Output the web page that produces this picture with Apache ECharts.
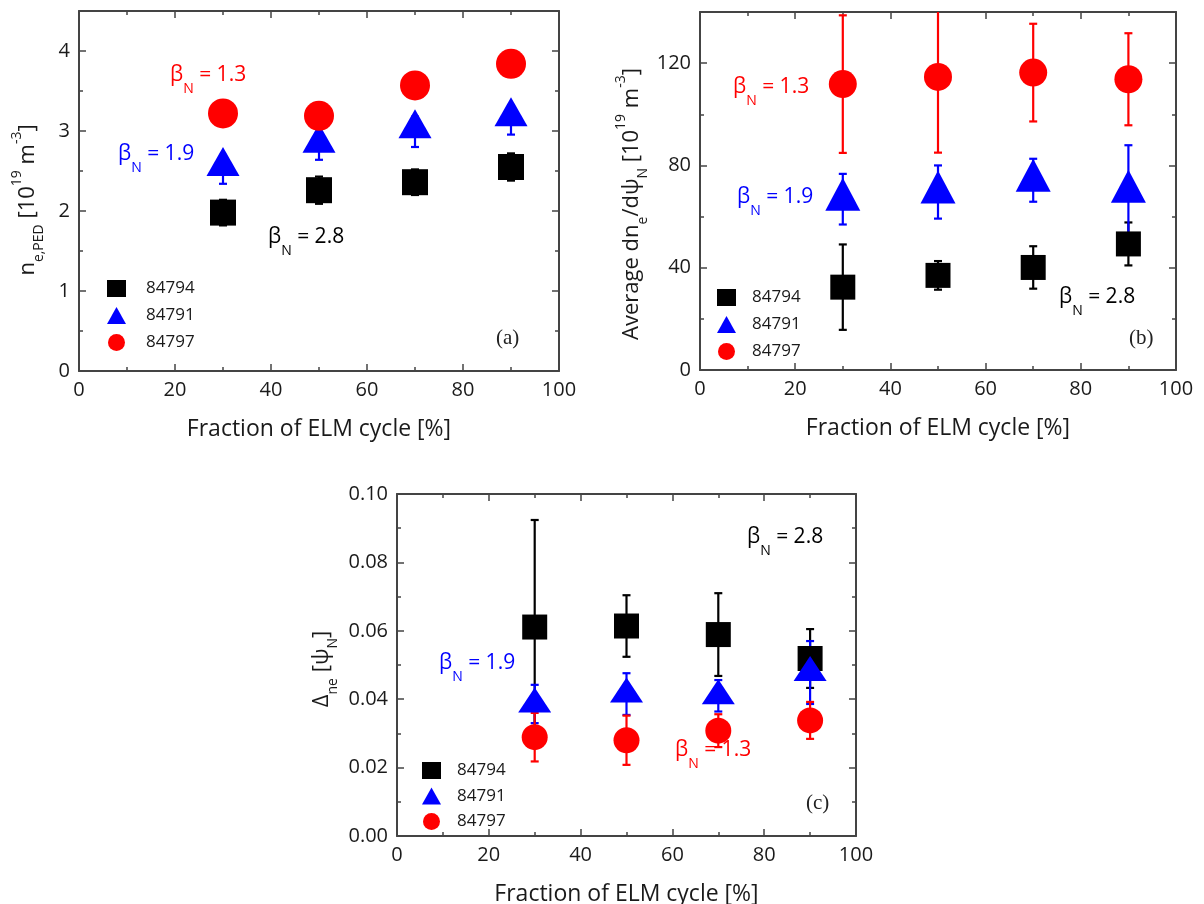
<!DOCTYPE html>
<html>
<head>
<meta charset="utf-8">
<script src="https://cdn.jsdelivr.net/npm/echarts@6/dist/echarts.min.js"></script>
<style>
  html, body { margin: 0; padding: 0; background: #ffffff; }
  #chart { width: 1204px; height: 904px; }
</style>
</head>
<body>
<div id="chart"></div>
<script>
const FONT = 'Open Sans';
const SERIF = 'Liberation Serif';
const AXIS_COLOR = '#444444';
const TEXT_COLOR = '#1a1a1a';

// Shared x positions (fraction of ELM cycle, %)
const cycleFraction = [30, 50, 70, 90];
const shots = ['84794', '84791', '84797'];
const shotColors = ['#000000', '#0000ff', '#ff0000'];
const shotSymbols = ['rect', 'triangle', 'circle'];
const betaValues = ['2.8', '1.9', '1.3'];

// (a) pedestal density n_e,PED [1e19 m^-3]
const pedDensity84794 = [1.98, 2.26, 2.36, 2.55];
const pedDensityErr84794 = [0.16, 0.17, 0.16, 0.17];
const pedDensity84791 = [2.52, 2.81, 2.99, 3.14];
const pedDensityErr84791 = [0.18, 0.17, 0.19, 0.185];
const pedDensity84797 = [3.22, 3.19, 3.57, 3.84];
const pedDensityErr84797 = [0.12, 0.12, 0.12, 0.12];

// (b) average density gradient dn_e/dpsi_N [1e19 m^-3]
const gradient84794 = [32.4, 37.0, 40.1, 49.3];
const gradientErr84794 = [16.7, 5.6, 8.3, 8.4];
const gradient84791 = [66.8, 69.6, 74.2, 69.9];
const gradientErr84791 = [9.9, 10.4, 8.4, 18.0];
const gradient84797 = [111.8, 114.6, 116.3, 113.7];
const gradientErr84797 = [26.9, 29.6, 19.1, 18.0];

// (c) pedestal width Delta_ne [psi_N]
const width84794 = [0.0611, 0.0614, 0.0589, 0.0519];
const widthErr84794 = [0.0313, 0.0090, 0.0121, 0.0086];
const width84791 = [0.0386, 0.0415, 0.0410, 0.0478];
const widthErr84791 = [0.0056, 0.0061, 0.0046, 0.0092];
const width84797 = [0.0289, 0.0280, 0.0308, 0.0338];
const widthErr84797 = [0.0071, 0.0072, 0.0048, 0.0054];

const richScript = {
  sub: { fontSize: 14, lineHeight: 14, verticalAlign: 'bottom', fontFamily: FONT, color: TEXT_COLOR },
  sup: { fontSize: 14, lineHeight: 14, verticalAlign: 'top', fontFamily: FONT, color: TEXT_COLOR }
};

const panels = [
  {
    grid: { left: 79, top: 11, width: 480, height: 360 },
    x: { min: 0, max: 100, major: 20, minor: 10, digits: 0 },
    y: { min: 0, max: 4.5, major: 1, minor: 0.5, digits: 0 },
    yName: 'n{sub|e,PED} [10{sup|19} m{sup|-3}]', yGap: 33, yShift: 18,
    values: [pedDensity84794, pedDensity84791, pedDensity84797],
    errors: [pedDensityErr84794, pedDensityErr84791, pedDensityErr84797],
    sizes: [26, [33, 29], 30], triOffset: -8,
    tag: '(a)', tagPos: [496, 338],
    notes: [[268, 237], [118, 154], [170, 75]],
    legendPos: [107, 280], legendGap: 10, legendTextGap: 20
  },
  {
    grid: { left: 700, top: 12, width: 476, height: 358 },
    x: { min: 0, max: 100, major: 20, minor: 10, digits: 0 },
    y: { min: 0, max: 140, major: 40, minor: 20, digits: 0 },
    yName: 'Average dn{sub|e}/dψ{sub|N} [10{sup|19} m{sup|-3}]', yGap: 50, yShift: 26,
    values: [gradient84794, gradient84791, gradient84797],
    errors: [gradientErr84794, gradientErr84791, gradientErr84797],
    sizes: [25, [35, 33], 28], triOffset: -5,
    tag: '(b)', tagPos: [1129, 338],
    notes: [[1059, 297], [737, 197], [733, 87]],
    legendPos: [717, 289], legendGap: 10, legendTextGap: 16
  },
  {
    grid: { left: 397, top: 494, width: 459, height: 342 },
    x: { min: 0, max: 100, major: 20, minor: 10, digits: 0 },
    y: { min: 0, max: 0.1, major: 0.02, minor: 0.01, digits: 2 },
    yName: 'Δ{sub|ne} [ψ{sub|N}]', yGap: 57, yShift: 8,
    values: [width84794, width84791, width84797],
    errors: [widthErr84794, widthErr84791, widthErr84797],
    sizes: [25, [33, 25], 26], triOffset: -4,
    tag: '(c)', tagPos: [806, 803],
    notes: [[747, 537], [439, 663], [675, 750]],
    legendPos: [422, 762], legendGap: 8.5, legendTextGap: 16
  }
];

const xAxes = [];
const yAxes = [];

// Each side of a frame gets a fine-tick axis plus a major axis; the bottom/left major axis carries labels.
function addAxes(list, gridIndex, dim, cfg, name, nameGap, nameShift) {
  const sides = dim === 'x' ? ['bottom', 'top'] : ['left', 'right'];
  let primary = -1;
  sides.forEach(function (pos, s) {
    list.push({
      type: 'value', gridIndex: gridIndex, position: pos,
      min: cfg.min, max: cfg.max, interval: cfg.minor,
      axisLine: { show: false, onZero: false },
      axisTick: { show: true, inside: true, length: 4, lineStyle: { color: AXIS_COLOR, width: 1.5 } },
      axisLabel: { show: false }, splitLine: { show: false }, silent: true
    });
    const major = {
      type: 'value', gridIndex: gridIndex, position: pos,
      min: cfg.min, max: cfg.max, interval: cfg.major,
      axisLine: { show: true, onZero: false, lineStyle: { color: AXIS_COLOR, width: 2 } },
      axisTick: { show: true, inside: true, length: 7, lineStyle: { color: AXIS_COLOR, width: 1.5 } },
      splitLine: { show: false }, silent: true,
      axisLabel: { show: false }
    };
    if (s === 0) {
      primary = list.length;
      major.axisLabel = {
        show: true, margin: 9, fontSize: 20, fontFamily: FONT, color: TEXT_COLOR,
        hideOverlap: false,
        formatter: function (v) {
          const k = v / cfg.major;
          if (Math.abs(k - Math.round(k)) > 1e-6) return '';
          return v.toFixed(cfg.digits);
        }
      };
      major.name = name;
      major.nameLocation = 'middle';
      major.nameGap = nameGap;
      major.nameMoveOverlap = false;
      major.nameRotate = dim === 'x' ? 0 : 90;
      major.nameTextStyle = {
        fontSize: dim === 'x' ? 23 : 22, fontFamily: FONT, color: TEXT_COLOR,
        lineHeight: dim === 'x' ? 28 : 36, rich: richScript,
        padding: dim === 'x' ? 0 : [0, nameShift || 0, 0, 0]
      };
    }
    list.push(major);
  });
  return primary;
}

function errorBars(xIdx, yIdx, values, errors, color, capWidth) {
  return {
    type: 'custom', xAxisIndex: xIdx, yAxisIndex: yIdx, clip: true, silent: true,
    data: cycleFraction.map(function (x, i) { return [x, values[i] - errors[i], values[i] + errors[i]]; }),
    renderItem: function (params, api) {
      const lo = api.coord([api.value(0), api.value(1)]);
      const hi = api.coord([api.value(0), api.value(2)]);
      const h = capWidth / 2;
      const st = { stroke: color, lineWidth: 2.2 };
      return {
        type: 'group',
        children: [
          { type: 'line', shape: { x1: lo[0], y1: lo[1], x2: hi[0], y2: hi[1] }, style: st },
          { type: 'line', shape: { x1: lo[0] - h, y1: lo[1], x2: lo[0] + h, y2: lo[1] }, style: st },
          { type: 'line', shape: { x1: hi[0] - h, y1: hi[1], x2: hi[0] + h, y2: hi[1] }, style: st }
        ]
      };
    }
  };
}

function betaNote(pos, value, color) {
  return {
    type: 'text', x: pos[0], y: pos[1], silent: true,
    style: {
      text: 'β{n|N} = ' + value,
      fontSize: 21, fontFamily: FONT, fill: color, lineHeight: 42,
      align: 'left', verticalAlign: 'middle', textAlign: 'left', textVerticalAlign: 'middle',
      rich: { n: { fontSize: 14, lineHeight: 14, verticalAlign: 'bottom', fontFamily: FONT, fill: color, color: color } }
    }
  };
}

const series = [];
const legends = [];
const graphics = [];

panels.forEach(function (p, gi) {
  const xi = addAxes(xAxes, gi, 'x', p.x, 'Fraction of ELM cycle [%]', 44, 0);
  const yi = addAxes(yAxes, gi, 'y', p.y, p.yName, p.yGap, p.yShift);
  shots.forEach(function (shot, si) {
    series.push(errorBars(xi, yi, p.values[si], p.errors[si], shotColors[si], 8));
    series.push({
      type: 'scatter', name: shot, xAxisIndex: xi, yAxisIndex: yi,
      symbol: shotSymbols[si], symbolSize: p.sizes[si],
      symbolOffset: shotSymbols[si] === 'triangle' ? [0, p.triOffset] : [0, 0],
      itemStyle: { color: shotColors[si], opacity: 1 },
      silent: true, clip: false,
      data: cycleFraction.map(function (x, i) { return [x, p.values[si][i]]; })
    });
  });
  legends.push({
    left: p.legendPos[0], top: p.legendPos[1], orient: 'vertical', padding: 0,
    itemWidth: 19, itemHeight: 17, itemGap: p.legendGap,
    selectedMode: false,
    textStyle: { fontSize: 17, fontFamily: FONT, color: TEXT_COLOR, padding: [0, 0, 0, p.legendTextGap - 5] },
    data: shots.map(function (s, si) { return { name: s, icon: shotSymbols[si] }; })
  });
  shots.forEach(function (shot, si) {
    graphics.push(betaNote(p.notes[si], betaValues[si], shotColors[si]));
  });
  graphics.push({
    type: 'text', x: p.tagPos[0], y: p.tagPos[1], silent: true,
    style: {
      text: p.tag, fontSize: 21, fontFamily: SERIF, fill: '#222222',
      align: 'left', verticalAlign: 'middle', textAlign: 'left', textVerticalAlign: 'middle'
    }
  });
});

const chart = echarts.init(document.getElementById('chart'), null, { renderer: 'canvas' });
chart.setOption({
  backgroundColor: '#ffffff',
  animation: false,
  grid: panels.map(function (p) {
    return Object.assign({ containLabel: false, outerBoundsMode: 'none' }, p.grid);
  }),
  xAxis: xAxes,
  yAxis: yAxes,
  legend: legends,
  series: series,
  graphic: { elements: graphics }
});
</script>
</body>
</html>
